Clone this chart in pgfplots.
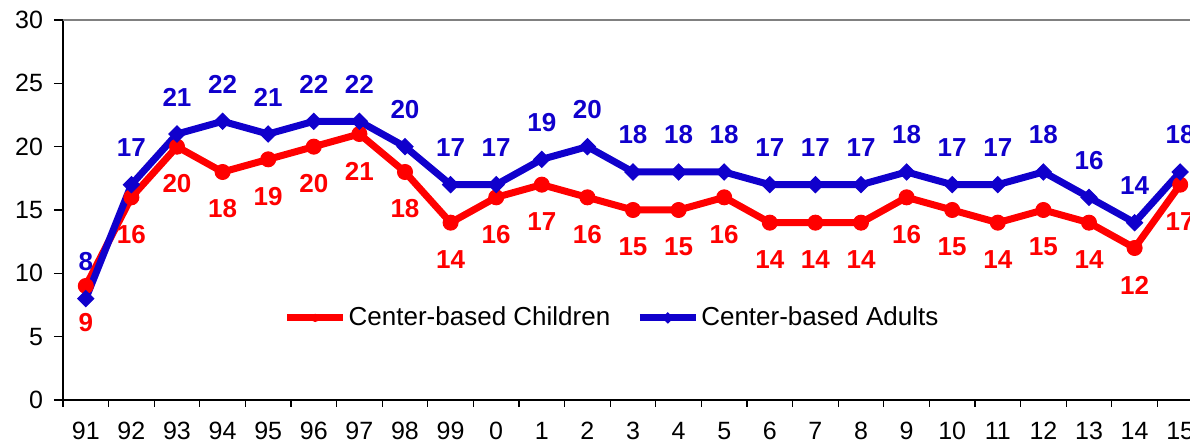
\documentclass[border=0pt]{standalone}
\usepackage{fontspec}
\setmainfont{Liberation Sans}
\usepackage{pgfplots}
\usepackage{pgfplotstable}
\pgfplotsset{compat=1.18}

\definecolor{cred}{RGB}{255,0,0}
\definecolor{cblue}{RGB}{16,0,204}

% x: 0 = 1991 ... 24 = 2015
\pgfplotstableread{
x child adult
0  9  8
1  16 17
2  20 21
3  18 22
4  19 21
5  20 22
6  21 22
7  18 20
8  14 17
9  16 17
10 17 19
11 16 20
12 15 18
13 15 18
14 16 18
15 14 17
16 14 17
17 14 17
18 16 18
19 15 17
20 14 17
21 15 18
22 14 16
23 12 14
24 17 18
}\datatable

\begin{document}
\begin{tikzpicture}
\begin{axis}[
    at={(0,0)}, anchor=south west,
    scale only axis,
    width=570pt, height=190pt,
    xmin=-0.5, xmax=24.5,
    ymin=0, ymax=30,
    axis x line*=bottom,
    axis y line*=left,
    axis line style={line width=0.75pt, black},
    tick align=outside,
    xtick={0,...,24},
    xticklabels={91,92,93,94,95,96,97,98,99,0,1,2,3,4,5,6,7,8,9,10,11,12,13,14,15},
    every major x tick/.append style={draw=none},
    minor xtick={-0.5,0.5,...,24.5},
    minor tick length=3.5pt,
    ytick={0,5,...,30},
    major tick length=4.5pt,
    tick style={black, line width=0.6pt},
    ticklabel style={font=\fontsize{12.5}{14}\selectfont},
    xticklabel style={yshift=-3pt},
    yticklabel style={xshift=-2pt},
    /pgf/number format/assume math mode=true,
    clip=false,
    legend style={
        at={(0.4816,0.216)}, anchor=center,
        draw=none, fill=none,
        font=\fontsize{13}{15}\selectfont,
        nodes={inner sep=1pt},
        /tikz/every even column/.append style={column sep=12pt},
    },
    legend columns=2,
    legend image code/.code={
        \draw[mark repeat=2, mark phase=2, #1, mark size=1.8pt]
            plot coordinates {(0pt,0pt) (14pt,0pt) (28pt,0pt)};
    },
    nodes near coords,
    every node near coord/.append style={
        font=\fontsize{13}{15}\selectfont\bfseries, anchor=center},
]
\addplot[cred, line width=3.5pt, mark=*, mark size=3.75pt,
    mark options={line width=0.5pt},
    every node near coord/.append style={text=cred, yshift=-18.5pt}]
    table[x=x, y=child] {\datatable};
\addlegendentry{Center-based Children}
\addplot[cblue, line width=3.5pt, mark=square*, mark size=2.85pt,
    mark options={line width=0.5pt, rotate=45},
    every node near coord/.append style={text=cblue, yshift=18.5pt}]
    table[x=x, y=adult] {\datatable};
\addlegendentry{Center-based Adults}
\draw[gray, line width=0.75pt] (rel axis cs:0,1) -- (rel axis cs:1,1);
\end{axis}
\pgfresetboundingbox
\path[use as bounding box] (-31.5pt,-22pt) rectangle (563.5pt,200pt);
\end{tikzpicture}
\end{document}
